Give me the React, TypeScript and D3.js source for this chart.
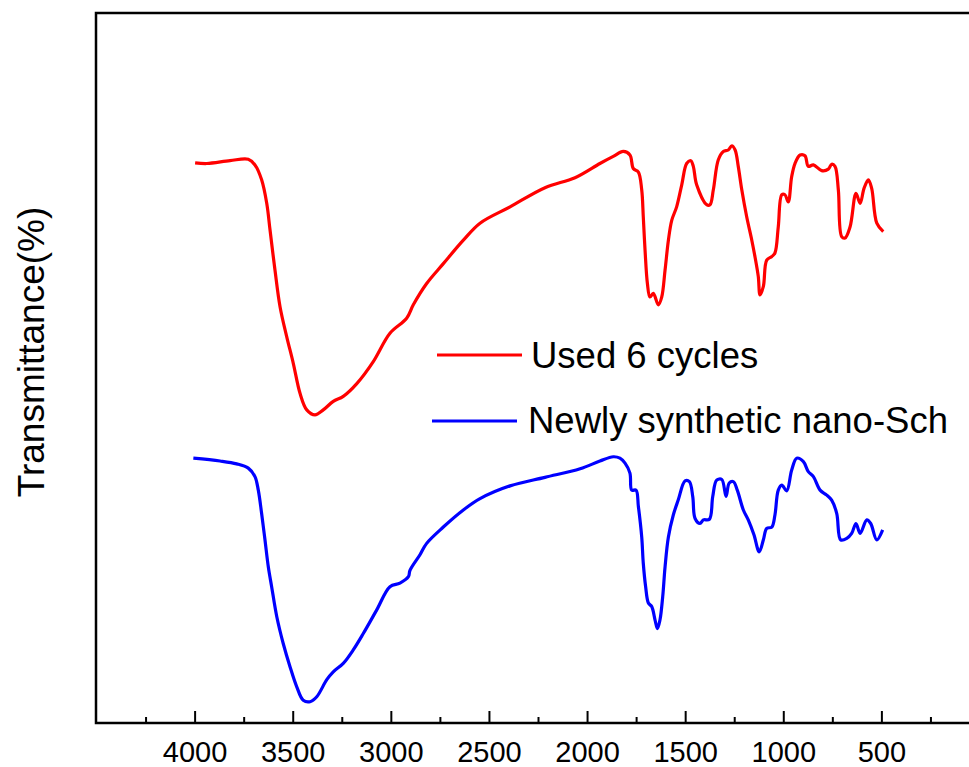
import React from "react";
import * as d3 from "d3";

// Wavenumber (cm-1) and relative transmittance (a.u., 0-100)
const usedWave = [4000,3941,3822,3729,3695,3661,3635,3618,3593,3567,3533,3500,3465,3431,3389,3347,3296,3245,3176,3092,3007,2922,2888,2820,2735,2633,2548,2395,2217,2064,1937,1869,1818,1784,1767,1741,1724,1716,1707,1695,1682,1665,1639,1622,1605,1588,1571,1546,1520,1495,1474,1461,1444,1393,1376,1359,1334,1308,1283,1265,1248,1232,1214,1189,1163,1147,1130,1121,1104,1087,1061,1045,1028,1010,994,977,960,943,917,892,875,849,807,773,756,739,722,705,688,662,632,611,591,569,552,526,493];
const usedT = [78.9,78.8,79.2,79.4,78.6,76.5,73.2,69.4,63.8,58.6,54.4,50.7,46.4,44.1,43.4,44.1,45.3,46.0,47.8,50.9,54.9,57.0,58.9,61.9,64.7,68.0,70.4,72.7,75.4,76.8,78.8,79.8,80.5,80.0,78.1,77.6,75.1,71.3,66.6,61.9,60.0,60.5,58.9,60.0,63.8,68.0,70.8,72.7,75.8,78.8,79.2,78.4,75.8,73.0,73.0,75.1,79.3,80.5,80.7,81.3,80.7,78.4,75.1,71.3,68.0,65.7,62.9,60.3,61.5,65.2,65.7,66.2,69.9,74.4,74.4,73.4,76.9,78.8,80.0,79.9,78.4,78.6,77.8,78.0,78.7,78.4,75.1,68.5,68.3,69.9,74.6,73.2,75.3,76.5,75.3,70.4,69.2];

const newWave = [4009,3873,3788,3729,3695,3678,3661,3644,3627,3610,3584,3551,3516,3482,3449,3414,3380,3329,3296,3245,3194,3143,3075,3007,2956,2913,2905,2854,2820,2735,2633,2548,2395,2217,2038,1937,1869,1835,1809,1784,1775,1753,1741,1724,1716,1704,1690,1673,1656,1644,1631,1617,1605,1588,1563,1538,1503,1481,1464,1452,1427,1410,1379,1362,1342,1316,1294,1278,1257,1237,1206,1181,1152,1125,1104,1087,1061,1045,1028,1010,985,960,934,900,875,849,815,781,756,730,710,679,654,632,611,577,557,526,496];
const newT = [37.3,36.9,36.5,35.9,34.7,32.8,29.5,25.8,22.0,19.2,15.0,11.2,7.9,5.1,3.2,3.0,3.7,6.1,7.2,8.4,10.3,12.6,15.9,19.2,19.7,20.6,21.5,23.7,25.3,27.6,30.0,31.6,33.4,34.6,35.8,36.9,37.5,37.3,36.6,35.2,32.8,32.8,30.5,26.2,22.5,19.2,16.9,16.4,14.5,13.3,14.5,17.8,22.0,26.2,29.3,31.4,34.1,34.0,31.9,28.8,28.1,28.6,28.7,31.9,34.2,34.3,31.9,33.8,34.0,32.8,30.0,28.6,26.5,24.1,25.8,27.4,27.6,29.3,32.8,33.5,32.7,35.6,37.3,36.8,35.4,34.7,32.8,32.1,31.4,29.5,25.8,26.0,26.7,28.1,26.7,28.6,28.1,25.8,27.2];

const majorTicks = [4000, 3500, 3000, 2500, 2000, 1500, 1000, 500];
const minorTicks = [4250, 3750, 3250, 2750, 2250, 1750, 1250, 750, 250];
const seriesNames = ["Used 6 cycles", "Newly synthetic nano-Sch"];
const seriesColors = ["#ff0000", "#0000ff"];
const yLabel = "Transmittance(%)";

export default function App() {
  const W = 969, H = 767;
  const left = 96, top = 13, bottom = 723, right = 980;
  const x = d3.scaleLinear().domain([4500, 0]).range([left + 1, right]);
  const y = d3.scaleLinear().domain([0, 100]).range([bottom, top]);
  const line = d3
    .line<[number, number]>()
    .x((d) => x(d[0]))
    .y((d) => y(d[1]))
    .curve(d3.curveCatmullRom.alpha(0.5));
  const used = usedWave.map((w, i) => [w, usedT[i]] as [number, number]);
  const fresh = newWave.map((w, i) => [w, newT[i]] as [number, number]);
  const font = "'Liberation Sans', Arial, Helvetica, sans-serif";

  return (
    <svg
      width={W}
      height={H}
      style={{ position: "absolute", left: 0, top: 0, background: "#fff" }}
      fontFamily={font}
    >
      <rect width={W} height={H} fill="#fff" />
      <path d={line(used) || ""} fill="none" stroke={seriesColors[0]} strokeWidth={3.2} strokeLinejoin="round" />
      <path d={line(fresh) || ""} fill="none" stroke={seriesColors[1]} strokeWidth={3.2} strokeLinejoin="round" />
      <path
        d={`M${right},${top}H${left}V${bottom}H${right}`}
        fill="none"
        stroke="#000"
        strokeWidth={2.5}
      />
      {majorTicks.map((t) => (
        <g key={"M" + t}>
          <line x1={x(t)} x2={x(t)} y1={bottom} y2={bottom - 12} stroke="#000" strokeWidth={2} />
          <text x={x(t)} y={762} textAnchor="middle" fontSize={29} fill="#000">
            {t}
          </text>
        </g>
      ))}
      {minorTicks.map((t) => (
        <line key={"m" + t} x1={x(t)} x2={x(t)} y1={bottom} y2={bottom - 6} stroke="#000" strokeWidth={2} />
      ))}
      <text
        transform="translate(44,352) rotate(-90)"
        textAnchor="middle"
        fontSize={37}
        fill="#000"
      >
        {yLabel}
      </text>
      <line x1={437} x2={522} y1={355} y2={355} stroke={seriesColors[0]} strokeWidth={3} />
      <text x={531} y={368} fontSize={36.5} fill="#000">
        {seriesNames[0]}
      </text>
      <line x1={432} x2={517} y1={421} y2={421} stroke={seriesColors[1]} strokeWidth={3} />
      <text x={528} y={433} fontSize={36.5} fill="#000">
        {seriesNames[1]}
      </text>
    </svg>
  );
}
